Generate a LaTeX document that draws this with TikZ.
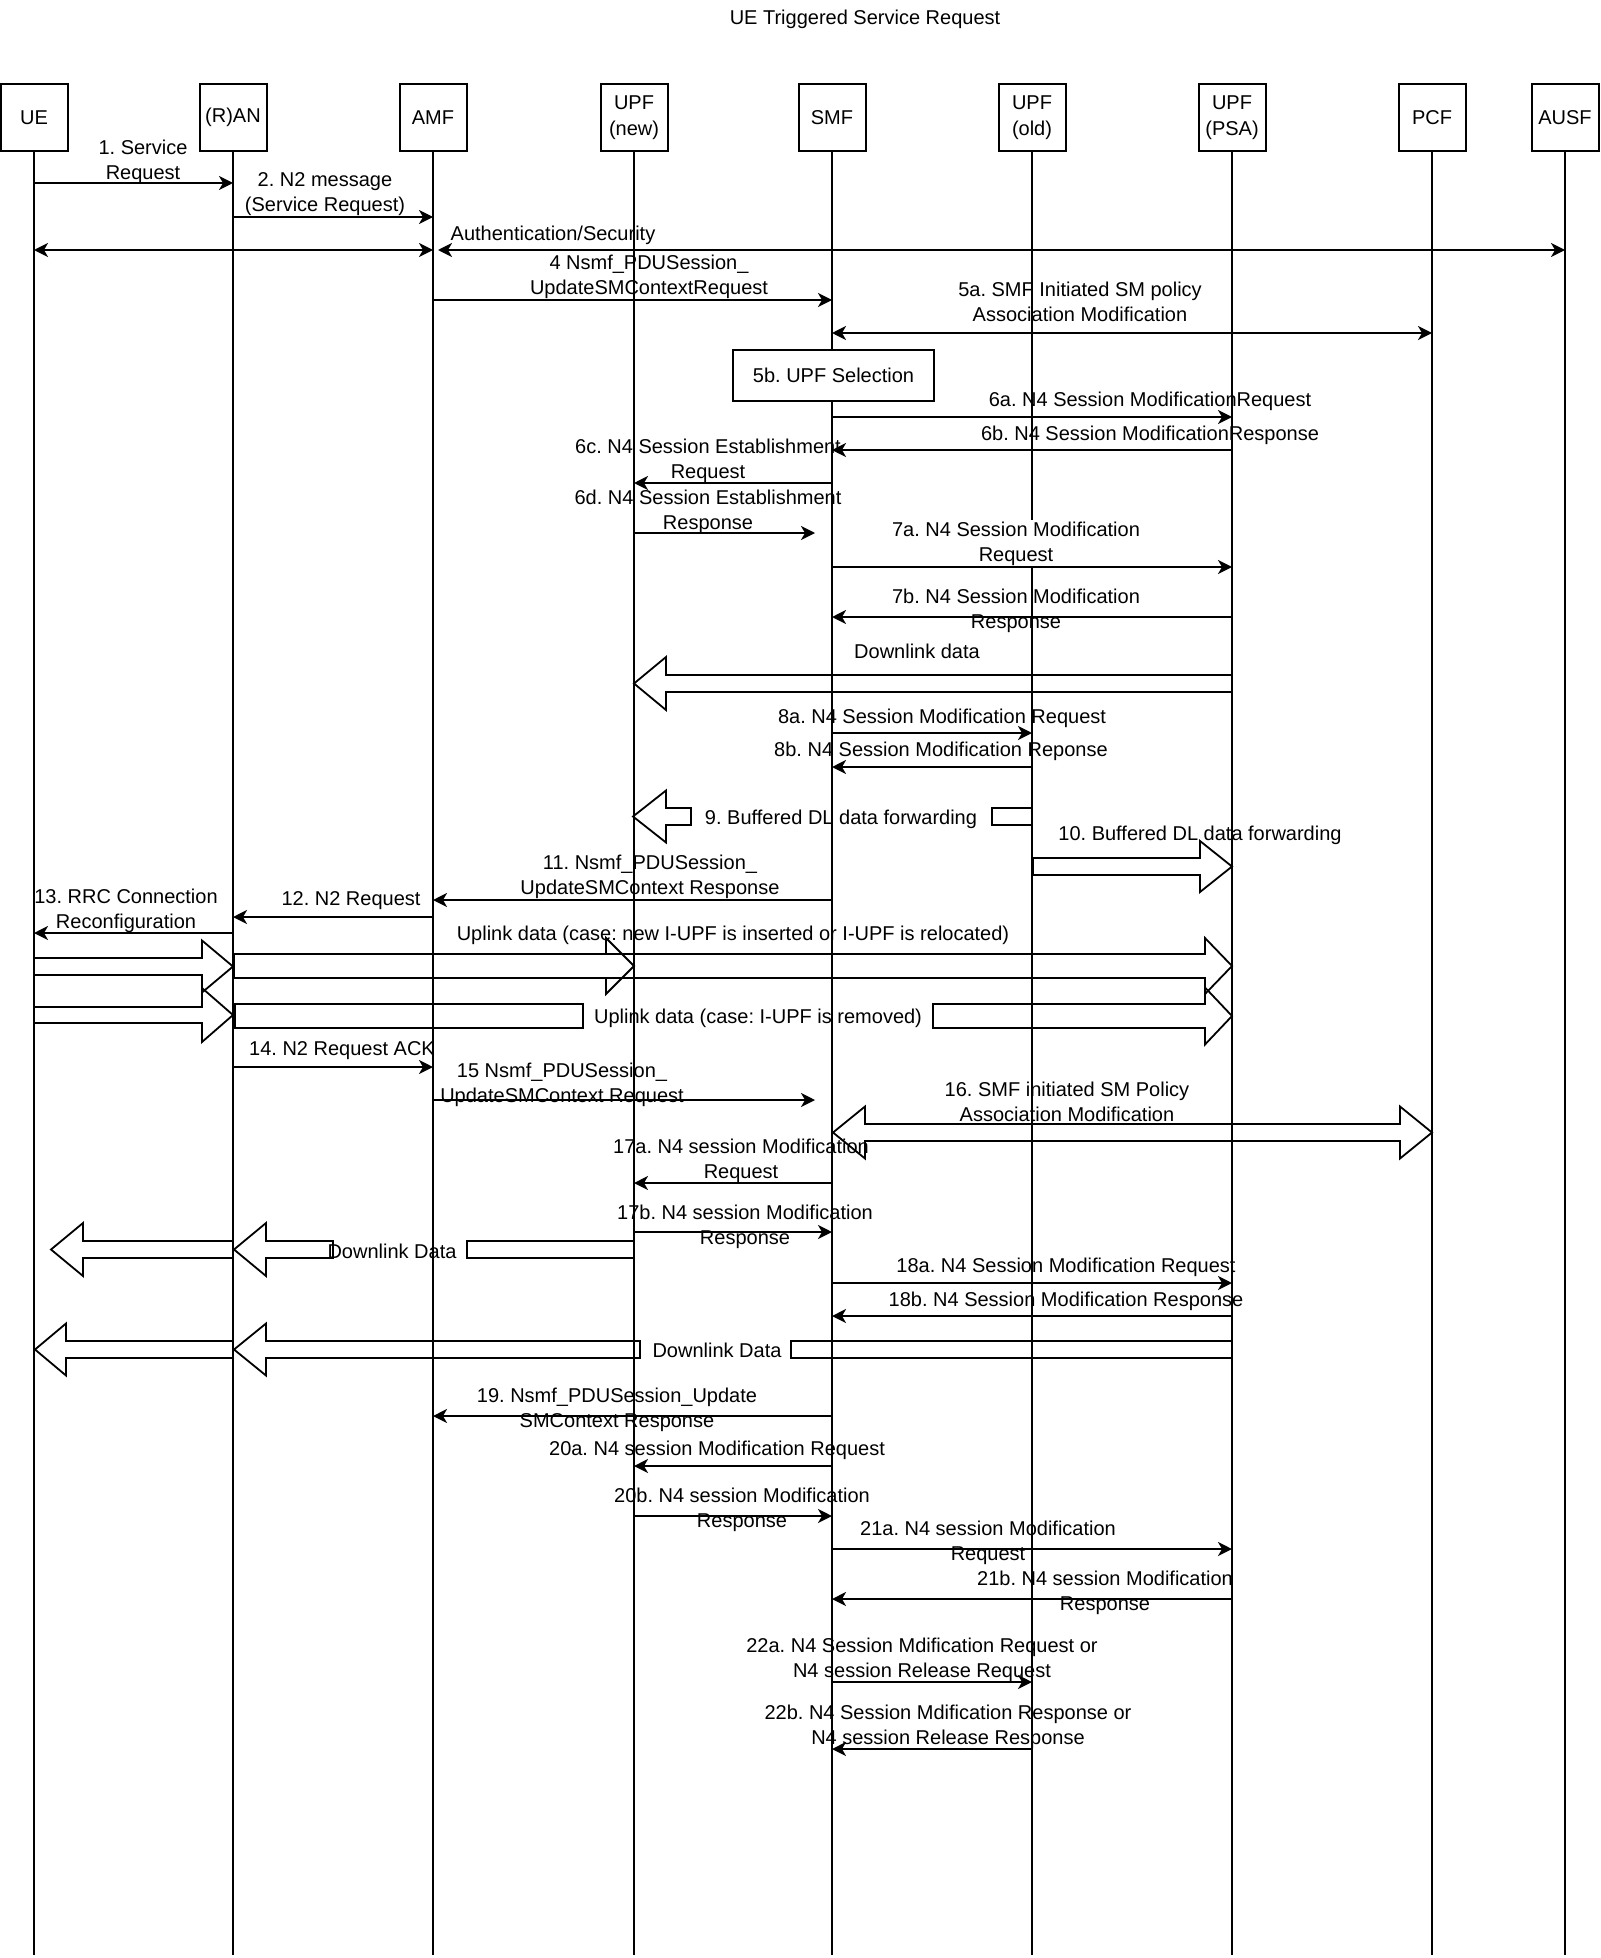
\documentclass[tikz,border=0pt]{standalone}
\usepackage{fontspec}
\setmainfont{Liberation Sans}
\usetikzlibrary{arrows.meta}
\frenchspacing

% block arrow: tail x, head base x, tip x, y, body half width, head half width
\newcommand\flexarrow[6]{%
    \draw[flex] (#1,{#4-#5}) -- (#2,{#4-#5}) -- (#2,{#4-#6}) -- (#3,#4)
        -- (#2,{#4+#6}) -- (#2,{#4+#5}) -- (#1,{#4+#5}) -- cycle;
}

\begin{document}
\begin{tikzpicture}
    [%%%%%%%%%%%%%%%%%%%%%%%%%%%%%%
        x=0.5pt, y=-0.5pt,
        every node/.style={font=\fontsize{10}{12.5}\selectfont},
        box/.style={rectangle,draw=black,line width=1pt,minimum width=33.5pt,minimum height=33.5pt,inner sep=1pt,align=center,font=\fontsize{10}{13}\selectfont},
        life/.style={line width=1pt},
        msg/.style={line width=1pt,-{Stealth[length=7pt,width=7pt,inset=2pt]}},
        twoway/.style={line width=1pt,{Stealth[length=7pt,width=7pt,inset=2pt]}-{Stealth[length=7pt,width=7pt,inset=2pt]}},
        flex/.style={line width=0.9pt,line join=miter},
        lbl/.style={align=center,inner sep=0pt,yshift=-1pt},
    ]%%%%%%%%%%%%%%%%%%%%%%%%%%%%%%

\useasboundingbox (0,0) rectangle (1600,1958);

\node[lbl] (title) at (865,17) {UE Triggered Service Request};

% heads
\node[box] (ue)   at (34,117.5)   {UE};
\node[box] (ran)  at (233,117.5)  {(R)AN};
\node[box] (amf)  at (433,117.5)  {AMF};
\node[box] (upfn) at (634,117.5)  {UPF\\(new)};
\node[box] (smf)  at (832,117.5)  {SMF};
\node[box] (upfo) at (1032,117.5) {UPF\\(old)};
\node[box] (psa)  at (1232,117.5) {UPF\\(PSA)};
\node[box] (pcf)  at (1432,117.5) {PCF};
\node[box] (ausf) at (1565,117.5) {AUSF};

% lifelines
\foreach \n in {ue,ran,amf,upfn,smf,psa,pcf,ausf}
    \draw[life] (\n.south) -- (\n |- 0,1955);
\draw[life] (upfo.south) -- (upfo |- 0,520);
\draw[life] (upfo |- 0,567) -- (upfo |- 0,1955);

\node[box,fill=white,minimum width=100.5pt,minimum height=25.5pt] (sel) at (833.5,375.5) {5b. UPF Selection};

% messages
\coordinate (amfr) at (438,250);
\coordinate (e6d) at (815,533);
\coordinate (e15) at (815,1100);

\draw[msg] (ue |- 0,183) -- (ran |- 0,183);
\draw[msg] (ran |- 0,217) -- (amf |- 0,217);
\draw[twoway] (ue |- 0,250) -- (amf |- 0,250);
\draw[twoway] (amfr) -- (ausf |- 0,250);
\draw[msg] (amf |- 0,300) -- (smf |- 0,300);
\draw[twoway] (smf |- 0,333) -- (pcf |- 0,333);
\draw[msg] (smf |- 0,417) -- (psa |- 0,417);
\draw[msg] (psa |- 0,450) -- (smf |- 0,450);
\draw[msg] (smf |- 0,483) -- (upfn |- 0,483);
\draw[msg] (upfn |- 0,533) -- (e6d);
\draw[msg] (smf |- 0,567) -- (psa |- 0,567);
\draw[msg] (psa |- 0,617) -- (smf |- 0,617);
\draw[msg] (smf |- 0,733) -- (upfo |- 0,733);
\draw[msg] (upfo |- 0,767) -- (smf |- 0,767);
\draw[msg] (smf |- 0,900) -- (amf |- 0,900);
\draw[msg] (amf |- 0,917) -- (ran |- 0,917);
\draw[msg] (ran |- 0,933) -- (ue |- 0,933);
\draw[msg] (ran |- 0,1067) -- (amf |- 0,1067);
\draw[msg] (amf |- 0,1100) -- (e15);
\draw[msg] (smf |- 0,1183) -- (upfn |- 0,1183);
\draw[msg] (upfn |- 0,1232) -- (smf |- 0,1232);
\draw[msg] (smf |- 0,1283) -- (psa |- 0,1283);
\draw[msg] (psa |- 0,1316) -- (smf |- 0,1316);
\draw[msg] (smf |- 0,1416) -- (amf |- 0,1416);
\draw[msg] (smf |- 0,1466) -- (upfn |- 0,1466);
\draw[msg] (upfn |- 0,1516) -- (smf |- 0,1516);
\draw[msg] (smf |- 0,1549) -- (psa |- 0,1549);
\draw[msg] (psa |- 0,1599) -- (smf |- 0,1599);
\draw[msg] (smf |- 0,1682) -- (upfo |- 0,1682);
\draw[msg] (upfo |- 0,1749) -- (smf |- 0,1749);

% data flows
\flexarrow{1232}{666}{634}{683.5}{8.5}{26.5}
\flexarrow{691}{666}{633}{816.5}{8.5}{26}
\draw[flex] (992,808) rectangle (1032,825);
\flexarrow{1033}{1200}{1232}{866.5}{8.5}{25.5}
\flexarrow{34}{202}{233}{966.5}{8.5}{26}
\flexarrow{34}{202}{233}{1015}{8}{27}
\flexarrow{234}{606}{634}{966}{12}{28}
\flexarrow{234}{1205}{1232}{966}{12}{28}
\draw[flex] (235,1004) rectangle (583,1028);
\flexarrow{933}{1205}{1232}{1016}{12}{28.5}
\draw[flex] (833,1132.5) -- (865,1106.5) -- (865,1124) -- (1400,1124) -- (1400,1106.5) -- (1432,1132.5)
    -- (1400,1158.5) -- (1400,1141) -- (865,1141) -- (865,1158.5) -- cycle;
\draw[flex] (467,1241) rectangle (634,1258);
\flexarrow{333}{266}{234}{1249.5}{8.5}{26.5}
\flexarrow{233}{83}{51}{1249.5}{8.5}{26.5}
\draw[flex] (791,1341) rectangle (1232,1358);
\flexarrow{640}{266}{234}{1349.5}{8.5}{26}
\flexarrow{233}{66}{35}{1349.5}{8.5}{26}

% labels
\node[lbl] (l1)   at (143,159.5)  {1. Service\\Request};
\node[lbl] (l2)   at (325,192.5)  {2. N2 message\\(Service Request)};
\node[lbl] (l3)   at (553,233)    {Authentication/Security};
\node[lbl] (l4)   at (649,275)    {4 Nsmf\_PDUSession\_\\UpdateSMContextRequest};
\node[lbl] (l5a)  at (1080,300)   {5a. SMF Initiated SM policy\\Association Modification};
\node[lbl] (l6a)  at (1150,399)   {6a. N4 Session ModificationRequest};
\node[lbl] (l6b)  at (1150,433)   {6b. N4 Session ModificationResponse};
\node[lbl] (l6c)  at (708,459)    {6c. N4 Session Establishment\\Request};
\node[lbl] (l6d)  at (708,509.5)  {6d. N4 Session Establishment\\Response};
\node[lbl] (l7a)  at (1016,541.5) {7a. N4 Session Modification\\Request};
\node[lbl] (l7b)  at (1016,608.5) {7b. N4 Session Modification\\Response};
\node[lbl] (ldl)  at (917,649)    {Downlink data};
\node[lbl] (l8a)  at (942,716)    {8a. N4 Session Modification Request};
\node[lbl] (l8b)  at (941,749)    {8b. N4 Session Modification Reponse};
\node[lbl] (l9)   at (841,817)    {9. Buffered DL data forwarding};
\node[lbl] (l10)  at (1200,833)   {10. Buffered DL data forwarding};
\node[lbl] (l11)  at (650,875)    {11. Nsmf\_PDUSession\_\\UpdateSMContext Response};
\node[lbl] (l12)  at (351,899)    {12. N2 Request};
\node[lbl] (l13)  at (126,908.5)  {13. RRC Connection\\Reconfiguration};
\node[lbl] (lul1) at (733,933)    {Uplink data (case: new I-UPF is inserted or I-UPF is relocated)};
\node[lbl] (lul2) at (758,1016)   {Uplink data (case: I-UPF is removed)};
\node[lbl] (l14)  at (342,1049)   {14. N2 Request ACK};
\node[lbl] (l15)  at (562,1083)   {15 Nsmf\_PDUSession\_\\UpdateSMContext Request};
\node[lbl] (l16)  at (1067,1099.5) {16. SMF initiated SM Policy\\Association Modification};
\node[lbl] (l17a) at (741,1158.5) {17a. N4 session Modification\\Request};
\node[lbl] (l17b) at (745,1225)   {17b. N4 session Modification\\Response};
\node[lbl] (ldl1) at (392,1249)   {Downlink Data};
\node[lbl] (l18a) at (1066,1265)  {18a. N4 Session Modification Request};
\node[lbl] (l18b) at (1066,1299)  {18b. N4 Session Modification Response};
\node[lbl] (ldl2) at (717,1348)   {Downlink Data};
\node[lbl] (l19)  at (617,1407.5) {19. Nsmf\_PDUSession\_Update\\SMContext Response};
\node[lbl] (l20a) at (717,1448)   {20a. N4 session Modification Request};
\node[lbl] (l20b) at (742,1507.5) {20b. N4 session Modification\\Response};
\node[lbl] (l21a) at (988,1540.5) {21a. N4 session Modification\\Request};
\node[lbl] (l21b) at (1105,1590.5) {21b. N4 session Modification\\Response};
\node[lbl] (l22a) at (922,1657.5) {22a. N4 Session Mdification Request or\\N4 session Release Request};
\node[lbl] (l22b) at (948,1724.5) {22b. N4 Session Mdification Response or\\N4 session Release Response};
\end{tikzpicture}
\end{document}
